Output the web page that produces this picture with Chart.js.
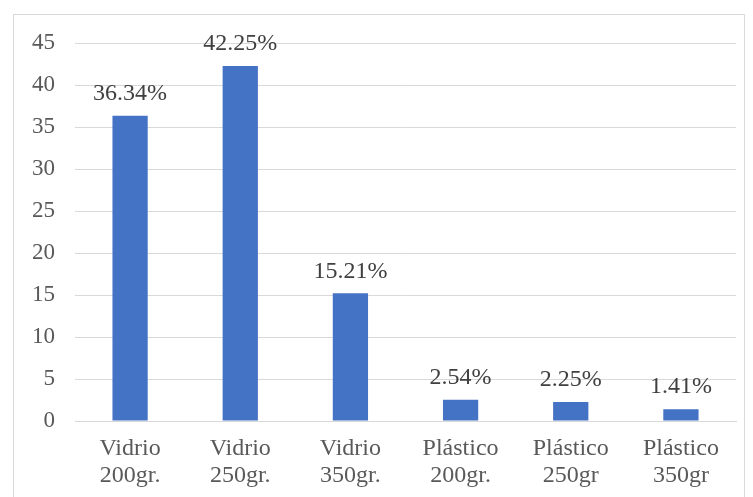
<!DOCTYPE html>
<html>
<head>
<meta charset="utf-8">
<script src="https://cdn.jsdelivr.net/npm/chart.js@4/dist/chart.umd.min.js"></script>
<style>
  html, body { margin: 0; padding: 0; background: #fff; }
  #wrap { position: relative; width: 753px; height: 497px; }
  #frame { position: absolute; left: 13px; top: 14px; width: 732px; height: 490px; border: 1px solid #d9d9d9; box-sizing: border-box; }
  canvas { position: absolute; left: 0; top: 0; }
</style>
</head>
<body>
<div id="wrap">
  <div id="frame"></div>
  <canvas id="chart" width="753" height="497"></canvas>
</div>
<script>
const categories = [
    ['Vidrio', '200gr.'],
    ['Vidrio', '250gr.'],
    ['Vidrio', '350gr.'],
    ['Plástico', '200gr.'],
    ['Plástico', '250gr'],
    ['Plástico', '350gr']
];
const values = [36.34, 42.25, 15.21, 2.54, 2.25, 1.41];
const valueLabels = ['36.34%', '42.25%', '15.21%', '2.54%', '2.25%', '1.41%'];

const serif = '"Liberation Serif", "Times New Roman", serif';

// percentage labels above the bars
const barLabels = {
    id: 'barLabels',
    afterDatasetsDraw(chart) {
        const ctx = chart.ctx;
        const meta = chart.getDatasetMeta(0);
        ctx.save();
        ctx.font = '24px ' + serif;
        ctx.fillStyle = '#404040';
        ctx.textAlign = 'center';
        ctx.textBaseline = 'middle';
        meta.data.forEach((bar, i) => {
            ctx.fillText(valueLabels[i], bar.x, bar.y - 22);
        });
        ctx.restore();
    }
};

const config = {
    type: 'bar',
    data: {
        labels: categories,
        datasets: [{
            data: values,
            backgroundColor: '#4472C4',
            barPercentage: 0.32,
            categoryPercentage: 1
        }]
    },
    options: {
        responsive: false,
        animation: false,
        devicePixelRatio: 1,
        layout: {
            padding: { left: 0, right: 17, top: 43, bottom: 0 }
        },
        plugins: {
            legend: { display: false },
            tooltip: { enabled: false }
        },
        scales: {
            x: {
                grid: { display: false, drawTicks: false },
                border: { color: '#d9d9d9', width: 1 },
                ticks: {
                    color: '#595959',
                    padding: 14,
                    maxRotation: 0,
                    font: { family: serif, size: 24, lineHeight: 1.12 }
                },
                afterFit(scale) { scale.height = 76; }
            },
            y: {
                min: 0,
                max: 45,
                ticks: {
                    stepSize: 5,
                    color: '#595959',
                    padding: 20,
                    font: { family: serif, size: 23 }
                },
                grid: { color: '#d9d9d9', lineWidth: 1, drawTicks: false },
                border: { display: false },
                afterFit(scale) { scale.width = 75; }
            }
        }
    },
    plugins: [barLabels]
};

new Chart(document.getElementById('chart'), config);
</script>
</body>
</html>
